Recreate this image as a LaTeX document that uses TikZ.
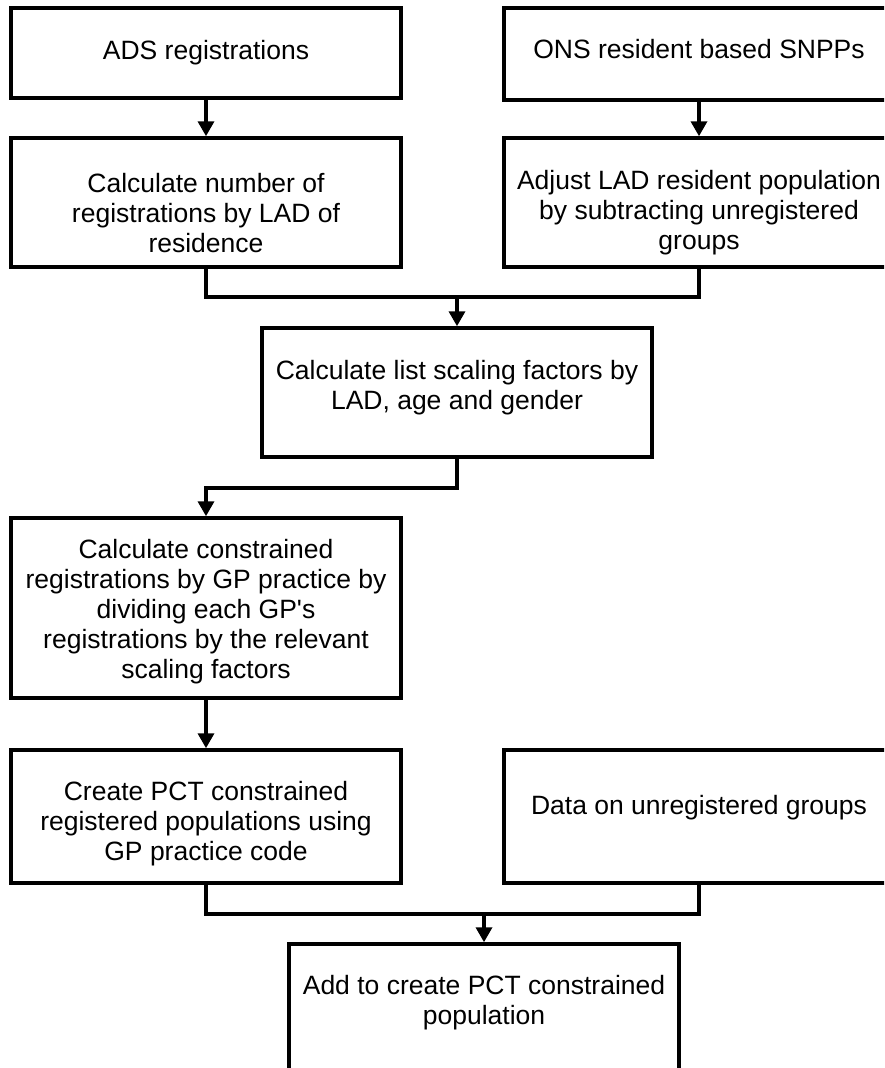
\documentclass[tikz,border=0pt]{standalone}
\usepackage{fontspec}
\setmainfont[Ligatures=TeXOff]{Liberation Sans}
\usetikzlibrary{arrows.meta}

\tikzset{
  box/.style={draw, line width=3.5pt, minimum width=390pt, inner sep=0pt},
  txt/.style={align=center, inner sep=0pt, font=\fontsize{26.5}{30}\selectfont},
  link/.style={line width=3.5pt},
  flow/.style={link, -{Triangle[width=16pt,length=15pt]}}
}

\begin{document}
\begin{tikzpicture}[x=1pt,y=-1pt]
	\useasboundingbox (0,0) rectangle (884,1068);
	\clip (0,0) rectangle (884,1068);
	
	% boxes
	\node[box, minimum height=90pt] (ads) at (206,53) {};
	\node[box, minimum height=92pt] (ons) at (699,54) {};
	\node[box, minimum height=129pt] (regs) at (206,202.5) {};
	\node[box, minimum height=129pt] (adjust) at (699,202.5) {};
	\node[box, minimum height=129pt] (factors) at (457,392.5) {};
	\node[box, minimum height=180pt] (constr) at (206,608) {};
	\node[box, minimum height=133pt] (pct) at (206,816.5) {};
	\node[box, minimum height=133pt] (unreg) at (699,816.5) {};
	\node[box, minimum height=134pt] (total) at (484,1011) {};
	
	% texts
	\node[txt] (ads-t) at (206,53) {ADS registrations};
	\node[txt] (ons-t) at (699,49.5) {ONS resident based SNPPs};
	\node[txt] (regs-t) at (206,213.5) {Calculate number of\\registrations by LAD of\\residence};
	\node[txt] (adjust-t) at (699,212.5) {Adjust LAD resident population\\by subtracting unregistered\\groups};
	\node[txt] (factors-t) at (457,388) {Calculate list scaling factors by\\LAD, age and gender};
	\node[txt] (constr-t) at (206,612) {Calculate constrained\\registrations by GP practice by\\dividing each GP's\\registrations by the relevant\\scaling factors};
	\node[txt] (pct-t) at (206,823.5) {Create PCT constrained\\registered populations using\\GP practice code};
	\node[txt] (unreg-t) at (699,808) {Data on unregistered groups};
	\node[txt] (total-t) at (484,1003) {Add to create PCT constrained\\population};
	
	% junction points
	\coordinate (m1) at (457,297);
	\coordinate (m2) at (206,488);
	\coordinate (m3) at (484,914);
	
	\draw[flow] (ads) -- (regs);
	\draw[flow] (ons) -- (adjust);
	\draw[link] (regs.south) |- (m1) -| (adjust.south);
	\draw[flow] (m1) -- (factors.north);
	\draw[flow] (factors.south) |- (m2) -- (constr.north);
	\draw[flow] (constr) -- (pct);
	\draw[link] (pct.south) |- (m3) -| (unreg.south);
	\draw[flow] (m3) -- (total.north);
\end{tikzpicture}
\end{document}
